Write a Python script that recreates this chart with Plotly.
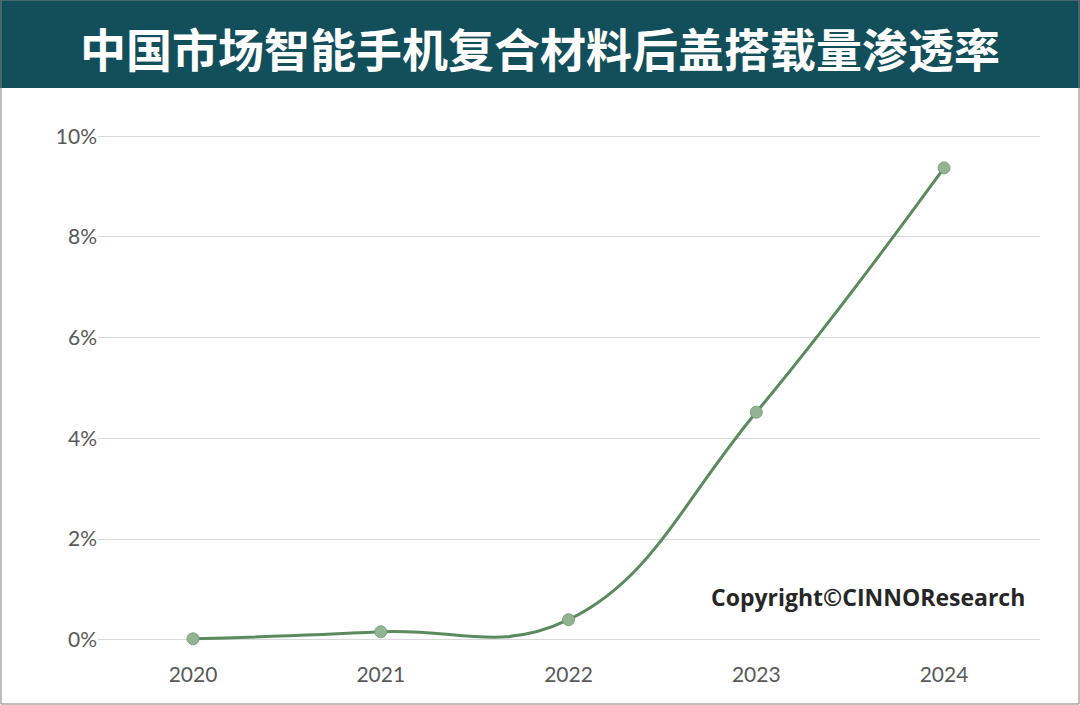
import plotly.graph_objects as go

years = [2020, 2021, 2022, 2023, 2024]
rates = [0.02, 0.16, 0.40, 4.52, 9.37]
title = "中国市场智能手机复合材料后盖搭载量渗透率"
yticks = [0, 2, 4, 6, 8, 10]

fig = go.Figure(go.Scatter(
    x=years, y=rates, mode="lines+markers",
    line=dict(color="#5b8a5e", width=3, shape="spline", smoothing=1.2),
    marker=dict(size=12, color="#93b493", line=dict(color="#7aa17a", width=1)),
    cliponaxis=False))

fig.update_layout(
    width=1080, height=705,
    margin=dict(l=98, r=40, t=116, b=45),
    paper_bgcolor="white", plot_bgcolor="white",
    showlegend=False,
    font=dict(family="Lato, Noto Sans CJK SC, sans-serif", color="#595959"),
    xaxis=dict(range=[2019.494, 2024.511], tickvals=years, ticktext=[str(y) for y in years],
               showgrid=False, zeroline=False, tickfont=dict(size=21, color="#595959")),
    yaxis=dict(range=[-0.4, 10.4], tickvals=yticks, ticktext=[f"{v}%" for v in yticks],
               showgrid=True, gridcolor="#d9d9d9", gridwidth=1, zeroline=False,
               tickfont=dict(size=21, color="#595959")),
    shapes=[
        dict(type="rect", xref="paper", yref="paper", x0=-98/942, x1=1+40/942,
             y0=1+(116-88)/544, y1=1+116/544, fillcolor="#124f5a", line=dict(width=0), layer="below"),
        dict(type="rect", xref="paper", yref="paper", x0=-97/942, x1=1+39/942,
             y0=-44/544, y1=1+116/544, fillcolor="rgba(0,0,0,0)", line=dict(color="#7f7f7f", width=1)),
    ],
    annotations=[
        dict(text=f"<b>{title}</b>", xref="paper", yref="paper", x=(540-98)/942, y=1+(116-47)/544,
             xanchor="center", yanchor="middle",
             showarrow=False, font=dict(size=46, color="white", family="Noto Sans CJK SC")),
        dict(text="<b>Copyright©CINNOResearch</b>", xref="paper", yref="paper",
             x=(1027-98)/942, y=(660-597)/544, xanchor="right", yanchor="middle", showarrow=False,
             font=dict(size=23, color="#262626", family="Open Sans, sans-serif")),
    ],
)
fig.write_html("out.html", post_script="document.body.style.margin='0';",
               config={"displayModeBar": False})
